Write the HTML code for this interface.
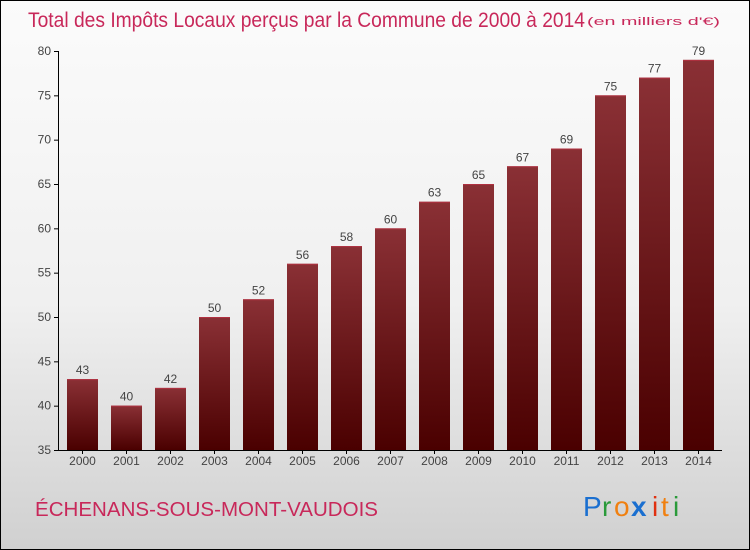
<!DOCTYPE html>
<html><head><meta charset="utf-8"><style>
html,body{margin:0;padding:0}
body{width:750px;height:550px;overflow:hidden;font-family:"Liberation Sans",sans-serif}
#frame{position:absolute;left:0;top:0;width:748px;height:548px;border:1px solid #000;background:linear-gradient(#fbfbfb 0%,#f0f0f0 55%,#d0d0d0 100%)}
</style></head><body>
<div id="frame">
<svg id="chart" width="750" height="550" style="position:absolute;left:-1px;top:-1px">
<defs><linearGradient id="bg" x1="0" y1="0" x2="0" y2="1"><stop offset="0" stop-color="#8a3035"/><stop offset="1" stop-color="#4a0000"/></linearGradient></defs>
<text x="28" y="27" font-size="21" fill="#c8285a" textLength="557" lengthAdjust="spacingAndGlyphs">Total des Impôts Locaux perçus par la Commune de 2000 à 2014</text>
<text x="587" y="25" font-size="11" fill="#c8285a" textLength="133" lengthAdjust="spacingAndGlyphs">(en milliers d'€)</text>
<g id="axis"></g><g id="bars"></g>
<text x="35" y="516" font-size="20" fill="#c8285a" textLength="343" lengthAdjust="spacingAndGlyphs">ÉCHENANS-SOUS-MONT-VAUDOIS</text>
<g font-size="28" font-family="'Liberation Sans',sans-serif">
<text x="583" y="516" fill="#1a6fd0">P</text><text x="602" y="516" fill="#2a9a3a">r</text><text x="614" y="516" fill="#f08010">o</text><text x="631" y="516" fill="#1a6fd0" font-weight="bold">x</text><text x="652" y="516" fill="#e03010">i</text><text x="661" y="516" fill="#f08010">t</text><text x="673" y="516" fill="#2a9a3a">i</text>
</g>
</svg></div>
<script>
const years=["2000","2001","2002","2003","2004","2005","2006","2007","2008","2009","2010","2011","2012","2013","2014"];
const values=[43,40,42,50,52,56,58,60,63,65,67,69,75,77,79];
const ticks=[35,40,45,50,55,60,65,70,75,80];
const NS="http://www.w3.org/2000/svg";
const y0=450,y1=51,vmin=35,vmax=80;
const yS=v=>y0-(v-vmin)*(y0-y1)/(vmax-vmin);
const xS=i=>67+i*44.0;
const bw=31;
function mk(t,a,p){const e=document.createElementNS(NS,t);for(const k in a)e.setAttribute(k,a[k]);p.appendChild(e);return e;}
const ax=document.getElementById('axis'),bg=document.getElementById('bars');
const yl=mk('line',{x1:58.5,x2:58.5,y1:yS(vmax),y2:y0,stroke:'#000'},ax);


const xl=mk('line',{x1:58,x2:722,y1:y0+0.5,y2:y0+0.5,stroke:'#000'},ax);


ticks.forEach(t=>{const y=yS(t);
mk('line',{x1:54,x2:59,y1:y+0.5,y2:y+0.5,stroke:'#000'},ax);
const tx=mk('text',{x:51,y:y+4,'font-size':12,fill:'#444','text-anchor':'end'},ax);tx.textContent=t;

});
years.forEach((yr,i)=>{const x=xS(i),y=yS(values[i]);
const r=mk('rect',{x:x,y:y,width:bw,height:y0-y,fill:'url(#bg)'},bg);


mk('line',{x1:x,x2:x+bw,y1:y+0.5,y2:y+0.5,stroke:'#b03040'},bg);
const v=mk('text',{x:x+bw/2,y:y-5,'font-size':12,fill:'#444','text-anchor':'middle'},bg);v.textContent=values[i];


mk('line',{x1:x+bw/2,x2:x+bw/2,y1:y0,y2:y0+4,stroke:'#000'},ax);
const l=mk('text',{x:x+bw/2,y:y0+15,'font-size':12,fill:'#444','text-anchor':'middle'},ax);l.textContent=yr;

});
</script>
</body></html>
